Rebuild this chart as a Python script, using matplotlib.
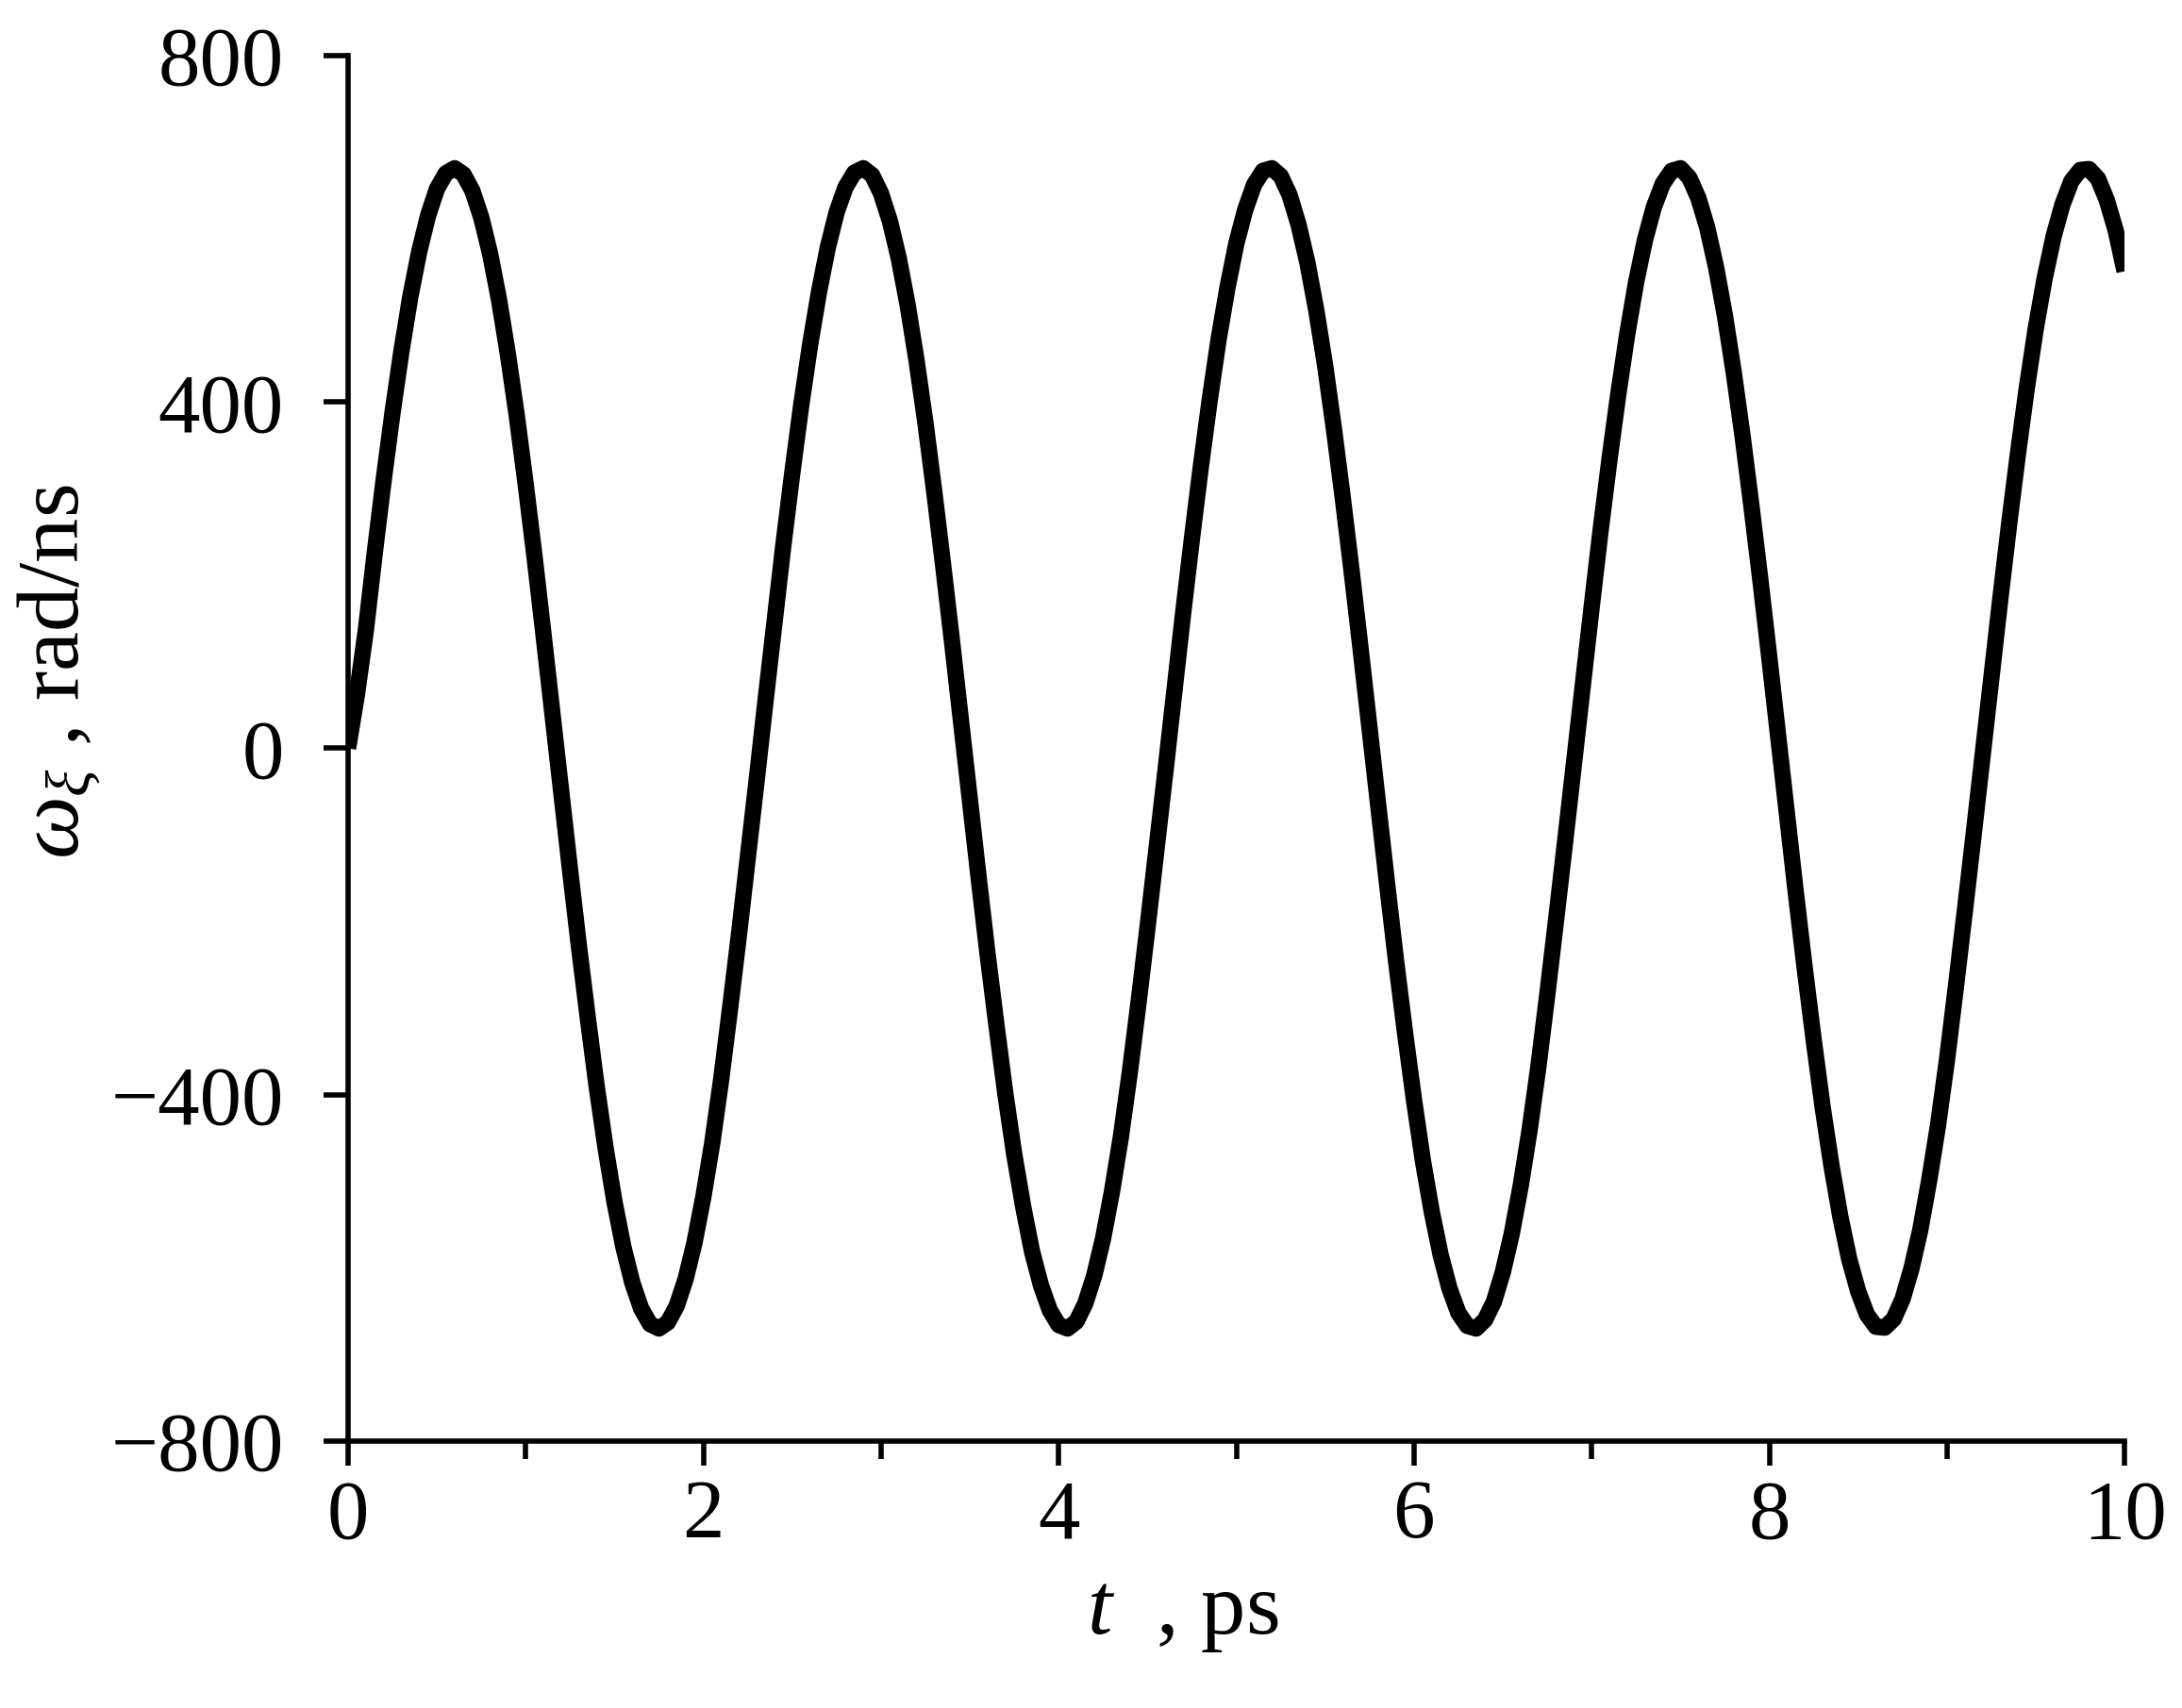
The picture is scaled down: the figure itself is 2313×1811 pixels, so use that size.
import numpy as np
import matplotlib.pyplot as plt

plt.rcParams['font.family'] = 'Liberation Serif'
plt.rcParams['mathtext.fontset'] = 'custom'
plt.rcParams['mathtext.rm'] = 'Liberation Serif'
plt.rcParams['mathtext.it'] = 'Liberation Serif:italic'

# time, ps (step 0.05)
t = np.round(np.arange(0, 10.001, 0.05), 2)
# angular velocity, rad/ns
omega = [0, 62, 136, 225, 309, 387, 458, 521, 573, 615,
         646, 664, 670, 663, 644, 613, 571, 518, 455, 384,
         305, 221, 132, 41, -51, -141, -229, -312, -391, -462,
         -524, -576, -617, -647, -665, -670, -663, -644, -613, -571,
         -518, -456, -383, -301, -216, -127, -37, 55, 145, 234,
         317, 395, 465, 526, 578, 619, 648, 665, 670, 662,
         641, 609, 566, 512, 448, 376, 296, 211, 123, 32,
         -60, -150, -238, -320, -399, -469, -529, -581, -620, -649,
         -666, -670, -662, -641, -609, -566, -512, -449, -375, -293,
         -207, -118, -28, 64, 155, 242, 325, 402, 472, 532,
         583, 622, 651, 667, 670, 661, 639, 605, 561, 506,
         442, 368, 288, 203, 114, 23, -69, -159, -247, -329,
         -406, -476, -535, -585, -624, -652, -667, -670, -660, -639,
         -605, -561, -506, -442, -368, -285, -198, -109, -18, 74,
         163, 251, 333, 409, 478, 538, 587, 625, 652, 667,
         670, 659, 636, 602, 556, 500, 434, 360, 279, 194,
         105, 14, -78, -168, -255, -337, -414, -482, -541, -590,
         -627, -654, -668, -669, -659, -636, -601, -556, -499, -435,
         -360, -276, -189, -100, -9, 83, 172, 259, 341, 417,
         485, 543, 591, 628, 655, 668, 669, 658, 633, 598,
         551]

xticks = [0, 2, 4, 6, 8, 10]
xminor = [1, 3, 5, 7, 9]
yticks = [-800, -400, 0, 400, 800]

fig = plt.figure(figsize=(23.13, 18.11), dpi=100)
ax = fig.add_axes([0.1595, 0.1563, 0.8142, 0.8111])

ax.plot(t, omega, color='black', lw=12.5, solid_capstyle='butt', solid_joinstyle='round')

ax.set_xlim(0, 10)
ax.set_ylim(-800, 800)
ax.set_xticks(xticks)
ax.set_xticks(xminor, minor=True)
ax.set_yticks(yticks)

for s in ['top', 'right']:
    ax.spines[s].set_visible(False)
for s in ['left', 'bottom']:
    ax.spines[s].set_linewidth(4)

ax.tick_params(axis='both', which='major', length=19, width=4, labelsize=64)
ax.tick_params(axis='x', which='minor', length=14, width=4)
ax.tick_params(axis='x', which='major', pad=10)
ax.tick_params(axis='y', which='major', pad=30)

fig.text(0.027, 0.607, r'$\omega_\xi$ , rad/ns', rotation=90, ha='center', va='center', fontsize=68)
fig.text(0.542, 0.055, r'$t$  , ps', ha='center', va='center', fontsize=68)

fig.savefig('out.png', dpi=100)
